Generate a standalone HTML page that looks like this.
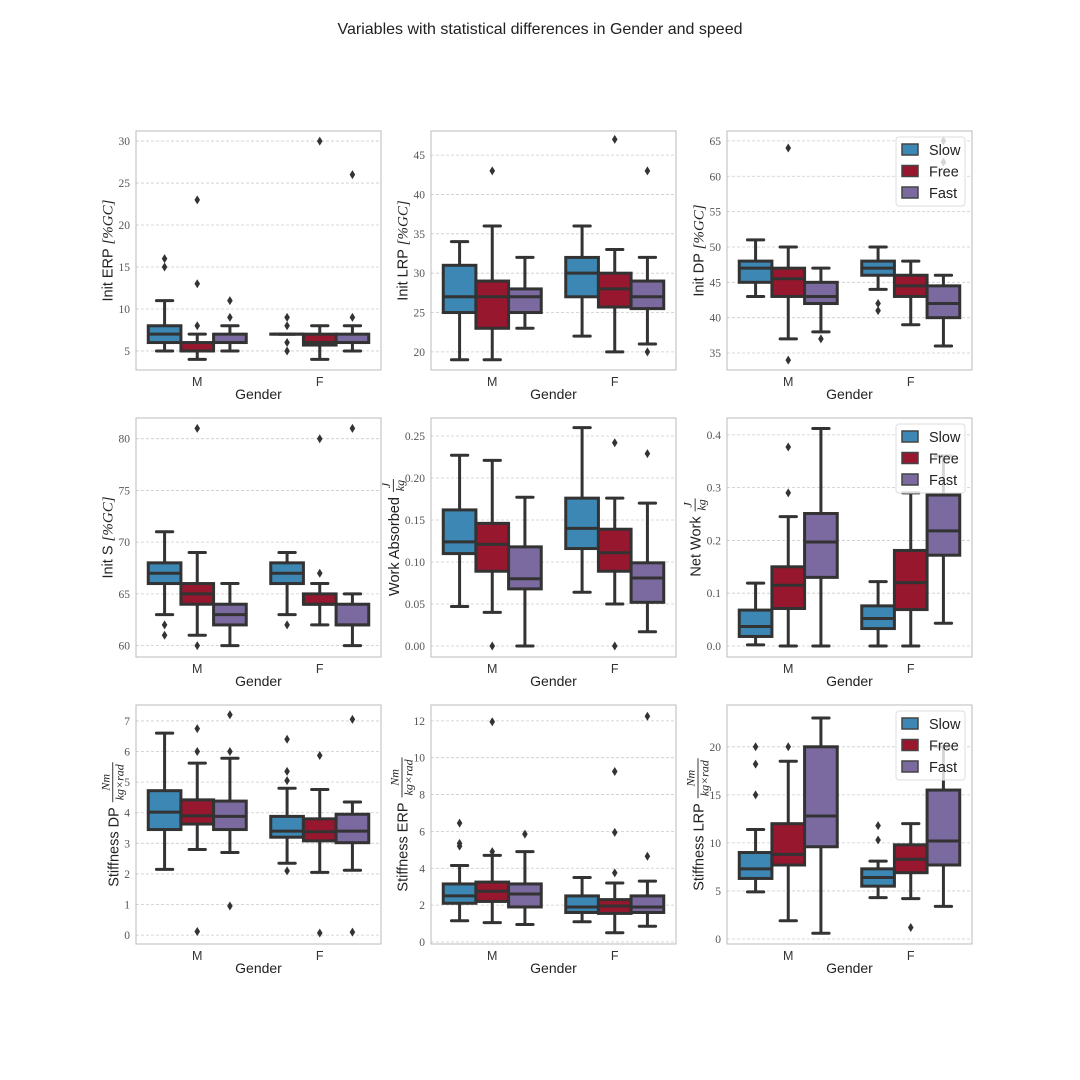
<!DOCTYPE html>
<html><head><meta charset="utf-8"><style>
html,body{margin:0;padding:0;background:#fff;}
svg{display:block;}
</style></head>
<body>
<svg id="fig" width="1080" height="1080" xmlns="http://www.w3.org/2000/svg">
<rect width="1080" height="1080" fill="#fff"/>
<text x="540" y="34" text-anchor="middle" font-family="Liberation Sans, sans-serif" font-size="16" fill="#222">Variables with statistical differences in Gender and speed</text>
</svg>
<script>
// categories and series
const genders = ["M", "F"];
const speeds = ["Slow", "Free", "Fast"];
const colors = ["#3c87b3", "#96172e", "#7b6a9f"];
// Box stats per panel: [low whisker, q1, median, q3, high whisker] for M-Slow, M-Free, M-Fast, F-Slow, F-Free, F-Fast
const statsInitERP = [[5,6,7,8,11],[4,5,5,6,7],[5,6,6,7,8],[7,7,7,7,7],[4,5.7,6,7,8],[5,6,6,7,8]];
const outInitERP = [[15,16],[8,13,23],[9,11],[5,6,8,9],[30],[9,26]];
const statsInitLRP = [[19,25,27,31,34],[19,23,27,29,36],[23,25,27,28,32],[22,27,30,32,36],[20,25.7,28,30,33],[21,25.5,27,29,32]];
const outInitLRP = [[],[43],[],[],[47],[20,43]];
const statsInitDP = [[43,45,47,48,51],[37,43,45.5,47,50],[38,42,43,45,47],[44,46,47,48,50],[39,43,44.5,46,48],[36,40,42,44.5,46]];
const outInitDP = [[],[34,64],[37],[41,42],[],[62,65]];
const statsInitS = [[63,66,67,68,71],[61,64,65,66,69],[60,62,63,64,66],[63,66,67,68,69],[62,64,64,65,66],[60,62,62,64,65]];
const outInitS = [[61,62],[60,81],[],[62],[67,80],[81]];
const statsWorkAbs = [[0.047,0.11,0.124,0.162,0.227],[0.04,0.089,0.121,0.146,0.221],[0,0.068,0.08,0.118,0.177],[0.064,0.116,0.14,0.176,0.26],[0.05,0.089,0.111,0.139,0.176],[0.017,0.052,0.081,0.099,0.17]];
const outWorkAbs = [[],[0],[],[],[0,0.242],[0.229]];
const statsNetWork = [[0.002,0.018,0.037,0.068,0.119],[0,0.071,0.115,0.15,0.245],[0,0.13,0.197,0.251,0.412],[0,0.033,0.052,0.076,0.122],[0,0.069,0.12,0.181,0.29],[0.043,0.172,0.218,0.286,0.36]];
const outNetWork = [[],[0.29,0.377],[],[],[],[]];
const statsStiffDP = [[2.15,3.45,4.02,4.72,6.6],[2.8,3.63,3.9,4.42,5.62],[2.7,3.45,3.88,4.38,5.78],[2.35,3.2,3.4,3.88,4.8],[2.05,3.08,3.38,3.8,4.76],[2.12,3.02,3.4,3.95,4.35]];
const outStiffDP = [[],[0.12,6.0,6.75],[0.95,6.0,7.2],[2.1,5.05,5.35,6.4],[0.07,5.87],[0.1,7.05]];
const statsStiffERP = [[1.15,2.1,2.5,3.15,4.15],[1.05,2.2,2.75,3.25,4.7],[0.95,1.9,2.6,3.15,4.9],[1.1,1.6,1.9,2.5,3.5],[0.5,1.55,1.95,2.3,3.2],[0.85,1.6,1.9,2.5,3.3]];
const outStiffERP = [[5.2,5.35,6.45],[4.9,11.95],[5.85],[],[3.75,5.95,9.25],[4.65,12.25]];
const statsStiffLRP = [[4.9,6.3,7.3,9.0,11.4],[1.9,7.7,8.8,12,18.5],[0.6,9.6,12.8,20,23],[4.3,5.5,6.4,7.3,8.1],[4.2,6.9,8.3,9.8,12],[3.4,7.7,10.2,15.5,20]];
const outStiffLRP = [[15,18.2,20],[20],[],[10.3,11.8],[1.2],[]];
// tick labels
const ticksInitERP = [5,10,15,20,25,30];
const ticksInitLRP = [20,25,30,35,40,45];
const ticksInitDP = [35,40,45,50,55,60,65];
const ticksInitS = [60,65,70,75,80];
const ticksWorkAbs = [0,0.05,0.10,0.15,0.20,0.25];
const ticksNetWork = [0,0.1,0.2,0.3,0.4];
const ticksStiffDP = [0,1,2,3,4,5,6,7];
const ticksStiffERP = [0,2,4,6,8,10,12];
const ticksStiffLRP = [0,5,10,15,20];

const panels = [
 {name:"init-erp", stats:statsInitERP, out:outInitERP, ticks:ticksInitERP, dec:0, dom:[2.73,31.2], label:"Init ERP ", unit:"[%GC]", frac:null, col:0,row:0, legend:false},
 {name:"init-lrp", stats:statsInitLRP, out:outInitLRP, ticks:ticksInitLRP, dec:0, dom:[17.7,48.06], label:"Init LRP ", unit:"[%GC]", frac:null, col:1,row:0, legend:false},
 {name:"init-dp", stats:statsInitDP, out:outInitDP, ticks:ticksInitDP, dec:0, dom:[32.6,66.4], label:"Init DP ", unit:"[%GC]", frac:null, col:2,row:0, legend:true},
 {name:"init-s", stats:statsInitS, out:outInitS, ticks:ticksInitS, dec:0, dom:[58.9,82.0], label:"Init S ", unit:"[%GC]", frac:null, col:0,row:1, legend:false},
 {name:"work-absorbed", stats:statsWorkAbs, out:outWorkAbs, ticks:ticksWorkAbs, dec:2, dom:[-0.0131,0.2714], label:"Work Absorbed", unit:null, frac:["J","kg"], col:1,row:1, legend:false},
 {name:"net-work", stats:statsNetWork, out:outNetWork, ticks:ticksNetWork, dec:1, dom:[-0.0209,0.432], label:"Net Work", unit:null, frac:["J","kg"], col:2,row:1, legend:true},
 {name:"stiffness-dp", stats:statsStiffDP, out:outStiffDP, ticks:ticksStiffDP, dec:0, dom:[-0.29,7.52], label:"Stiffness DP", unit:null, frac:["Nm","kg×rad"], col:0,row:2, legend:false},
 {name:"stiffness-erp", stats:statsStiffERP, out:outStiffERP, ticks:ticksStiffERP, dec:0, dom:[-0.11,12.86], label:"Stiffness ERP", unit:null, frac:["Nm","kg×rad"], col:1,row:2, legend:false},
 {name:"stiffness-lrp", stats:statsStiffLRP, out:outStiffLRP, ticks:ticksStiffLRP, dec:0, dom:[-0.52,24.35], label:"Stiffness LRP", unit:null, frac:["Nm","kg×rad"], col:2,row:2, legend:true}
];
const colX = [136, 431, 727];
const rowY = [131, 418, 705];
const AW = 245, AH = 239;
const NS = "http://www.w3.org/2000/svg";
const svg = document.getElementById("fig");
function mk(tag, attrs, parent){
  const e = document.createElementNS(NS, tag);
  for (const k in attrs) e.setAttribute(k, attrs[k]);
  (parent||svg).appendChild(e);
  return e;
}
const serif = "Liberation Serif, DejaVu Serif, serif";
const sans = "Liberation Sans, sans-serif";

panels.forEach(p => {
  const x0 = colX[p.col], y0 = rowY[p.row];
  const yS = v => y0 + AH - (v - p.dom[0]) / (p.dom[1] - p.dom[0]) * AH;
  const catW = AW / 2;
  const boxW = catW * 0.8 / 3;
  const xS = (g, s) => x0 + catW * (g + 0.5) + (s - 1) * boxW;
  const g = mk("g", {});
  
  
  let maxTW = 0;
  p.ticks.forEach(t => {
    const y = yS(t);
    const gl = mk("line", {x1:x0, x2:x0+AW, y1:y, y2:y, stroke:"#ccc", "stroke-width":0.8, "stroke-dasharray":"3,2"}, g);
    
    
    const tl = mk("text", {x:x0-6, y:y+4, "text-anchor":"end", "font-family":serif, "font-size":11.5, fill:"#555"}, g);
    tl.textContent = t.toFixed(p.dec);
    
    
    maxTW = Math.max(maxTW, tl.getComputedTextLength());
  });
  p.stats.forEach((st, i) => {
    const gi = Math.floor(i / 3), si = i % 3;
    const cx = xS(gi, si);
    const bg = mk("g", {}, g);
    
    
    const lw = 3, ec = "#333";
    const capW = boxW * 0.5;
    mk("line", {x1:cx, x2:cx, y1:yS(st[0]), y2:yS(st[1]), stroke:ec, "stroke-width":lw}, bg);
    mk("line", {x1:cx, x2:cx, y1:yS(st[3]), y2:yS(st[4]), stroke:ec, "stroke-width":lw}, bg);
    mk("line", {x1:cx-capW/2, x2:cx+capW/2, y1:yS(st[0]), y2:yS(st[0]), stroke:ec, "stroke-width":lw, "stroke-linecap":"round"}, bg);
    mk("line", {x1:cx-capW/2, x2:cx+capW/2, y1:yS(st[4]), y2:yS(st[4]), stroke:ec, "stroke-width":lw, "stroke-linecap":"round"}, bg);
    mk("rect", {x:cx-boxW/2, y:yS(st[3]), width:boxW, height:Math.max(0.01, yS(st[1])-yS(st[3])), fill:colors[si], stroke:ec, "stroke-width":lw}, bg);
    mk("line", {x1:cx-boxW/2, x2:cx+boxW/2, y1:yS(st[2]), y2:yS(st[2]), stroke:ec, "stroke-width":lw}, bg);
    p.out[i].forEach(v => {
      const y = yS(v);
      const d = mk("path", {d:`M${cx},${y-4.5} L${cx+2.8},${y} L${cx},${y+4.5} L${cx-2.8},${y} Z`, fill:"#333"}, bg);
      
      
    });
  });
  const fr = mk("rect", {x:x0, y:y0, width:AW, height:AH, fill:"none", stroke:"#bbb", "stroke-width":1}, g);
  
  
  genders.forEach((gn, gi) => {
    const t = mk("text", {x:x0 + catW*(gi+0.5), y:y0+AH+16, "text-anchor":"middle", "font-family":sans, "font-size":12.5, fill:"#333"}, g);
    t.textContent = gn;
    
    
  });
  const xl = mk("text", {x:x0+AW/2, y:y0+AH+29, "text-anchor":"middle", "font-family":sans, "font-size":14, fill:"#222"}, g);
  xl.textContent = "Gender";
  
  
  const yc = y0 + AH/2;
  const lx = x0 - 6 - maxTW - 6;
  const yg = mk("g", {transform:`translate(${lx},${yc}) rotate(-90)`}, g);
  
  
  const main = mk("text", {x:0, y:0, "font-family":sans, "font-size":14.5, fill:"#222"}, yg);
  main.textContent = p.label;
  if (p.unit) {
    const ts = mk("tspan", {"font-family":serif, "font-style":"italic", "font-size":15}, main);
    ts.textContent = p.unit;
    const w = main.getComputedTextLength();
    main.setAttribute("x", -w/2);
  } else {
    const w = main.getComputedTextLength();
    const gap = 5;
    const fw = p.frac[0] === "J" ? 13 : 40;
    const tot = w + gap + fw;
    main.setAttribute("x", -tot/2);
    const fx = -tot/2 + w + gap + fw/2;
    const n = mk("text", {x:fx, y:-9, "text-anchor":"middle", "font-family":serif, "font-style":"italic", "font-size":12, fill:"#222"}, yg);
    n.textContent = p.frac[0];
    mk("line", {x1:fx-fw/2, x2:fx+fw/2, y1:-5.5, y2:-5.5, stroke:"#222", "stroke-width":0.9}, yg);
    const dn = mk("text", {x:fx, y:5, "text-anchor":"middle", "font-family":serif, "font-style":"italic", "font-size":12, fill:"#222"}, yg);
    dn.textContent = p.frac[1];
  }
  if (p.legend) {
    const lgx = x0 + AW - 76, lgy = y0 + 6;
    const lg = mk("g", {}, g);
    
    
    mk("rect", {x:lgx, y:lgy, width:69, height:69, rx:3, fill:"#fff", "fill-opacity":0.8, stroke:"#ddd", "stroke-width":1}, lg);
    speeds.forEach((s, si) => {
      const ey = lgy + 7 + si*21.5;
      const e = mk("g", {}, lg);
      
      
      mk("rect", {x:lgx+6, y:ey, width:16, height:11, fill:colors[si], stroke:"#444", "stroke-width":1.5}, e);
      const t = mk("text", {x:lgx+33, y:ey+11, "font-family":sans, "font-size":14.5, fill:"#222"}, e);
      t.textContent = s;
    });
  }
});
</script>
</body></html>
